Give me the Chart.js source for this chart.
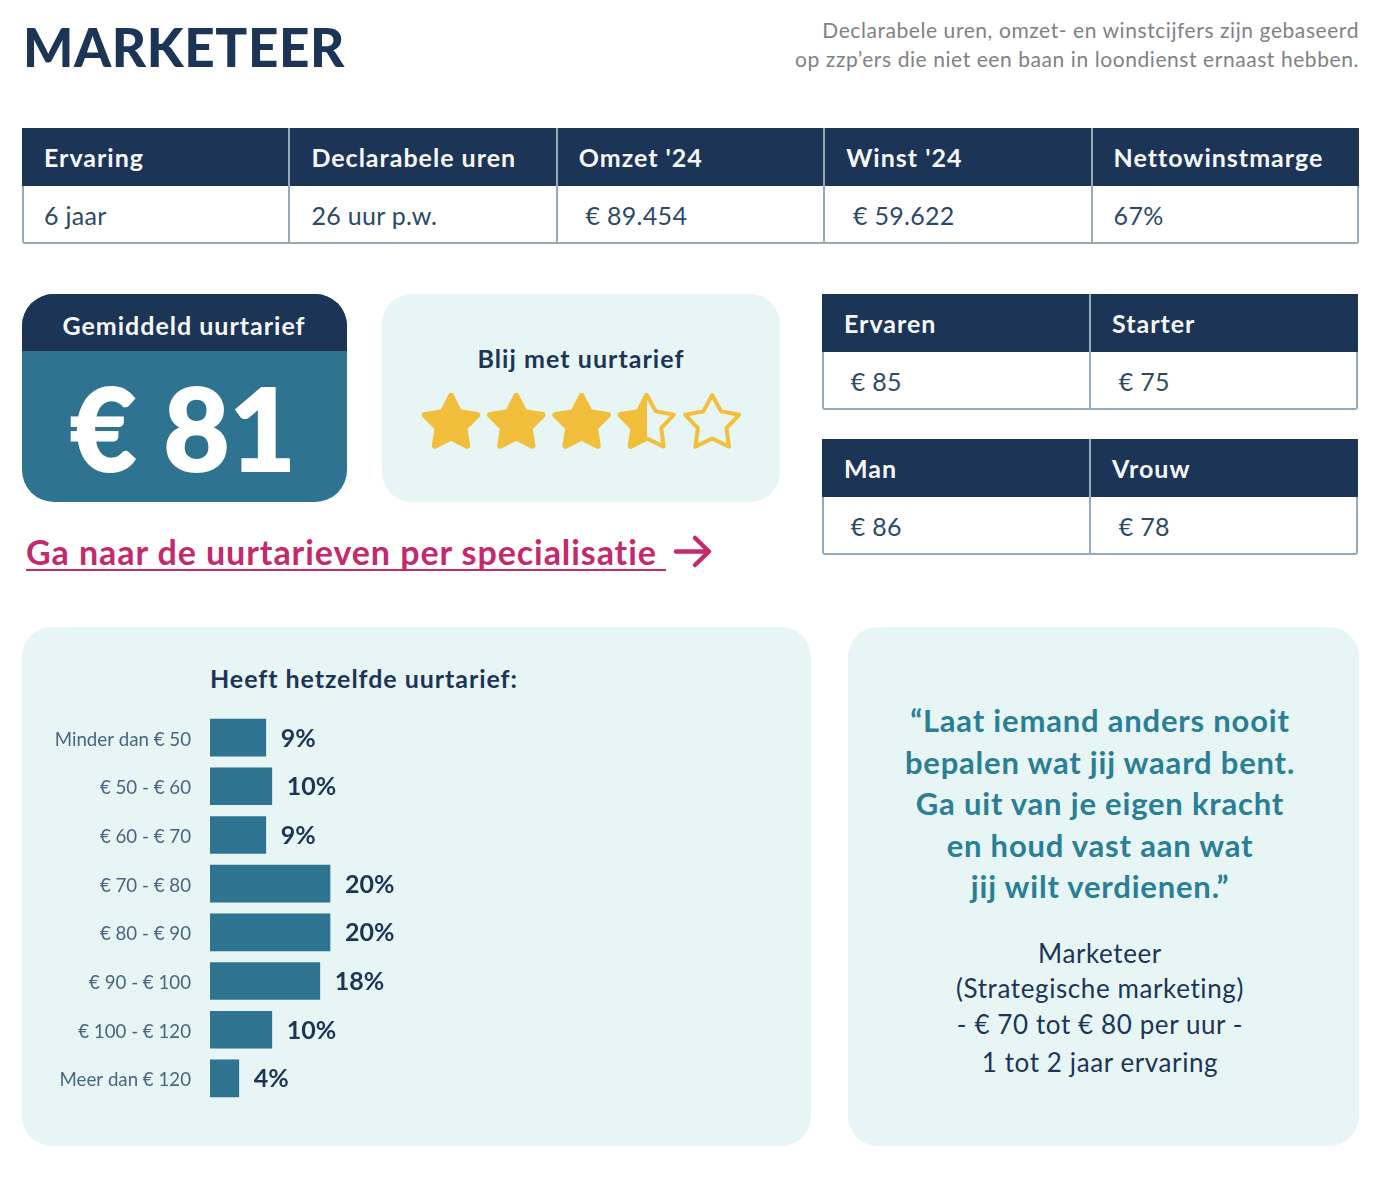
<!DOCTYPE html>
<html lang="nl">
<head>
<meta charset="utf-8">
<title>Marketeer</title>
<script src="https://cdn.jsdelivr.net/npm/chart.js@4"></script>
<style>
  html, body { margin: 0; padding: 0; background: #fff; }
  body { position: relative; width: 1400px; height: 1178px; overflow: hidden; font-family: Lato, sans-serif; color: #1c3557; }
  .box { position: absolute; box-sizing: border-box; }
  .t { position: absolute; white-space: pre; line-height: 1; transform: translateY(-50%); }
  .c { transform: translate(-50%, -50%); text-align: center; }
  .panel { background: #e7f5f5; border-radius: 30px; }
  .head { background: #1c3557; }
  .frame { border: 2px solid #95aabb; border-top: 0; background: #fff; border-radius: 0 0 3px 3px; }
  .div { position: absolute; width: 2px; background: #95aabb; }
  .th { font-weight: 700; font-size: 25px; color: #f6f8fa; letter-spacing: 1px; }
  .td { font-size: 25px; color: #2a4a68; letter-spacing: .3px; }
  .quote { font-weight: 700; font-size: 31px; color: #2b7f95; letter-spacing: .8px; }
  .who { font-size: 26px; color: #1c3557; letter-spacing: .6px; }
  #barChart { position: absolute; left: 22px; top: 702px; }
</style>
</head>
<body>

<div class="t" style="left:23px;top:46px;font-size:53px;font-weight:900;letter-spacing:.6px">MARKETEER</div>
<div class="t" style="right:41px;top:29px;font-size:21px;color:#7f8285;letter-spacing:.57px">Declarabele uren, omzet- en winstcijfers zijn gebaseerd</div>
<div class="t" style="right:41px;top:58px;font-size:21px;color:#7f8285;letter-spacing:.57px">op zzp’ers die niet een baan in loondienst ernaast hebben.</div>

<div id="tables"></div>

<!-- gemiddeld uurtarief -->
<div class="box" style="left:22px;top:294px;width:325px;height:208px;background:#2e7491;border-radius:32px;overflow:hidden">
  <div class="head" style="height:57px"></div>
</div>
<div class="t c th" style="left:184px;top:325px">Gemiddeld uurtarief</div>
<div class="t c" style="left:183px;top:427px;font-size:114px;font-weight:900;color:#fff;-webkit-text-stroke:2px #fff">€ 81</div>

<!-- blij met uurtarief -->
<div class="box panel" style="left:382px;top:294px;width:398px;height:208px"></div>
<div class="t c" style="left:581px;top:358px;font-size:25px;font-weight:700;letter-spacing:1.05px">Blij met uurtarief</div>
<svg id="stars" class="box" style="left:382px;top:380px" width="398" height="80" viewBox="382 380 398 80"></svg>

<!-- link -->
<div class="t" style="left:26px;top:553px;font-size:34px;font-weight:700;color:#c42a6b;border-bottom:2px solid #c42a6b;letter-spacing:.93px">Ga naar de uurtarieven per specialisatie </div>
<svg class="box" style="left:670px;top:530px" width="46" height="44" viewBox="0 0 46 44" fill="none" stroke="#c42a6b" stroke-width="4.5" stroke-linecap="round" stroke-linejoin="round">
  <path d="M6 21.5H38M25 8L39 21.5L25 35"/>
</svg>

<!-- staafdiagram -->
<div class="box panel" style="left:22px;top:627px;width:789px;height:519px"></div>
<div class="t" style="left:210px;top:678px;font-size:25px;font-weight:700;letter-spacing:.95px">Heeft hetzelfde uurtarief:</div>
<canvas id="barChart" width="788" height="412"></canvas>

<!-- quote -->
<div class="box panel" style="left:848px;top:627px;width:511px;height:519px"></div>
<div id="quote"></div>

<script>
// data
const categories = ['Minder dan € 50', '€ 50 - € 60', '€ 60 - € 70', '€ 70 - € 80', '€ 80 - € 90', '€ 90 - € 100', '€ 100 - € 120', 'Meer dan € 120'];
const shareValues = [9.3, 10.3, 9.3, 20, 20, 18.3, 10.3, 4.8];
const shareLabels = ['9%', '10%', '9%', '20%', '20%', '18%', '10%', '4%'];

const rating = 3.5;
const maxRating = 5;

const topHeads = ['Ervaring', 'Declarabele uren', 'Omzet \'24', 'Winst \'24', 'Nettowinstmarge'];
const topValues = ['6 jaar', '26 uur p.w.', ' € 89.454', ' € 59.622', '67%'];
const levelHeads = ['Ervaren', 'Starter'];
const levelValues = [' € 85', ' € 75'];
const genderHeads = ['Man', 'Vrouw'];
const genderValues = [' € 86', ' € 78'];

const quoteLines = ['“Laat iemand anders nooit', 'bepalen wat jij waard bent.', 'Ga uit van je eigen kracht', 'en houd vast aan wat', 'jij wilt verdienen.”'];
const whoLines = ['Marketeer', '(Strategische marketing)', '- € 70 tot € 80 per uur -', '1 tot 2 jaar ervaring'];

function addText(parent, cls, text, left, top){
  const el = document.createElement('div');
  el.className = 't ' + cls;
  el.textContent = text;
  el.style.left = left + 'px';
  el.style.top = top + 'px';
  parent.appendChild(el);
}

function drawTable(left, top, width, heads, values){
  const root = document.getElementById('tables');
  const colW = width / heads.length;
  root.insertAdjacentHTML('beforeend',
    `<div class="box head" style="left:${left}px;top:${top}px;width:${width}px;height:58px"></div>` +
    `<div class="box frame" style="left:${left}px;top:${top + 58}px;width:${width}px;height:58px"></div>`);
  heads.forEach((h, i) => {
    const x = left + i * colW;
    if (i > 0) root.insertAdjacentHTML('beforeend', `<div class="div" style="left:${x - 1}px;top:${top}px;height:116px"></div>`);
    addText(root, 'th', h, x + 22, top + 29);
    addText(root, 'td', values[i], x + 22, top + 87);
  });
}

drawTable(22, 128, 1337, topHeads, topValues);
drawTable(822, 294, 536, levelHeads, levelValues);
drawTable(822, 439, 536, genderHeads, genderValues);

// sterren
function starPath(cx, cy, R, r){
  let d = '';
  for (let i = 0; i < 10; i++){
    const rad = i % 2 ? r : R;
    const a = -Math.PI / 2 + i * Math.PI / 5;
    d += (i ? 'L' : 'M') + (cx + rad * Math.cos(a)).toFixed(1) + ' ' + (cy + rad * Math.sin(a)).toFixed(1);
  }
  return d + 'Z';
}

function drawStars(){
  const svg = document.getElementById('stars');
  let html = '';
  for (let i = 0; i < maxRating; i++){
    const cx = 451 + i * 65.3;
    const fillPart = Math.max(0, Math.min(1, rating - i));
    if (fillPart > 0){
      const clipW = fillPart * 64;
      html += `<clipPath id="c${i}"><rect x="${cx - 32}" y="385" width="${clipW}" height="70"/></clipPath>`;
      html += `<path d="${starPath(cx, 423.5, 27.5, 14)}" fill="#f2bf3c" stroke="#f2bf3c" stroke-width="6" stroke-linejoin="round" clip-path="url(#c${i})"/>`;
    }
    if (fillPart < 1){
      html += `<path d="${starPath(cx, 423.5, 28.5, 15)}" fill="none" stroke="#f2bf3c" stroke-width="4" stroke-linejoin="round"/>`;
    }
  }
  svg.innerHTML = html;
}
drawStars();

// quote
const quoteEl = document.getElementById('quote');
[720, 762, 803, 845, 886].forEach((y, i) => addText(quoteEl, 'c quote', quoteLines[i], 1100, y));
[953, 988, 1024, 1062].forEach((y, i) => addText(quoteEl, 'c who', whoLines[i], 1100, y));

// labels naast de staven
const barLabelPlugin = {
  id: 'barLabels',
  afterDatasetsDraw(chart){
    const ctx = chart.ctx;
    ctx.save();
    ctx.font = '700 25px Lato';
    ctx.fillStyle = '#1c3557';
    ctx.textAlign = 'left';
    ctx.textBaseline = 'middle';
    chart.getDatasetMeta(0).data.forEach((bar, i) => {
      ctx.fillText(shareLabels[i], bar.x + 15, bar.y + 1);
    });
    ctx.restore();
  }
};

new Chart(document.getElementById('barChart').getContext('2d'), {
  type: 'bar',
  data: {
    labels: categories,
    datasets: [{
      data: shareValues,
      backgroundColor: '#2e7491',
      barThickness: 37
    }]
  },
  options: {
    indexAxis: 'y',
    responsive: false,
    animation: false,
    layout: { padding: 0 },
    plugins: { legend: { display: false }, tooltip: { enabled: false } },
    scales: {
      x: { display: false, min: 0, max: 100 },
      y: {
        afterFit(scale){ scale.width = 188; },
        border: { display: false },
        // onzichtbare tick zorgt voor de ruimte tussen label en staaf
        grid: { color: 'rgba(0,0,0,0)', drawOnChartArea: false, drawTicks: true, tickLength: 19 },
        ticks: { color: '#4a6580', padding: 0, labelOffset: 2, font: { family: 'Lato', size: 18.7 } }
      }
    }
  },
  plugins: [barLabelPlugin]
});
</script>
</body>
</html>
